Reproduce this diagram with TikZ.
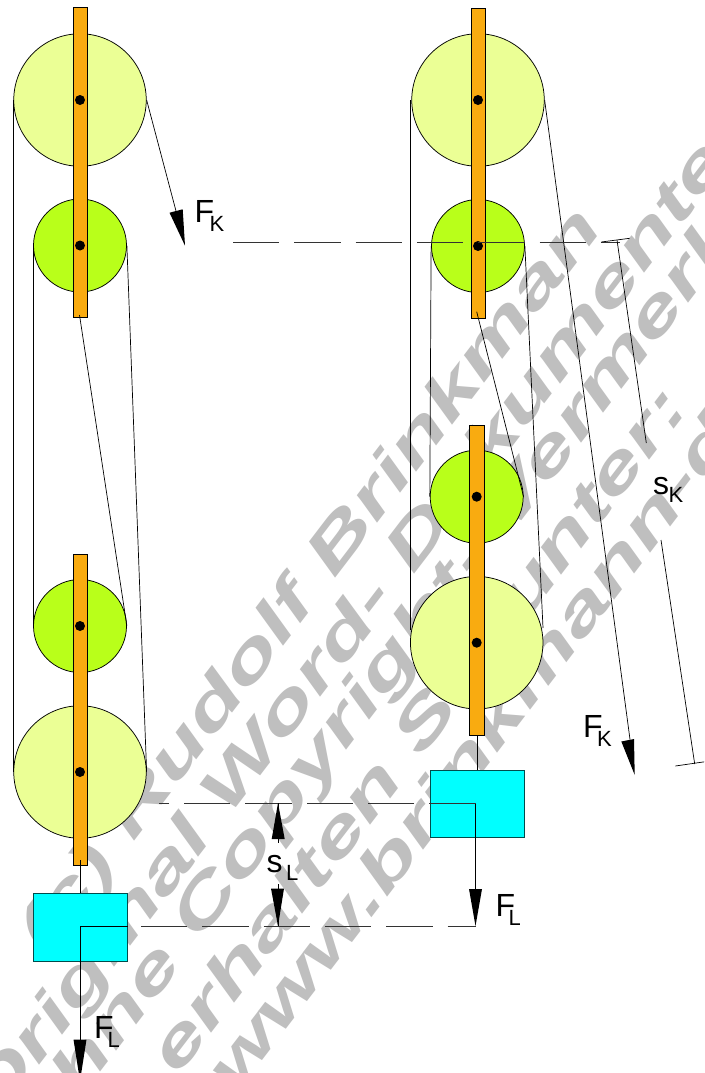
\documentclass[tikz,border=0pt]{standalone}
\usepackage{fontspec}
\setmainfont{Liberation Sans}
\newcommand{\wmfont}{\fontsize{62}{62}\selectfont\bfseries\itshape}
\newcommand{\wmtext}[1]{\scalebox{1.55}[1]{#1}}
\newcommand{\lblfont}{\fontsize{32}{32}\selectfont}
\newcommand{\subfont}{\fontsize{22}{22}\selectfont}
\definecolor{bigwheel}{HTML}{EBFF95}
\definecolor{smallwheel}{HTML}{B9FF1A}
\definecolor{barfill}{HTML}{F9AB10}
\definecolor{loadfill}{HTML}{00FFFF}
\definecolor{wmgray}{HTML}{BFBFBF}
\tikzset{
  x=1pt,y=-1pt,
  watermark/.style={anchor=base west,rotate=52.6,text=wmgray,inner sep=0pt,font=\wmfont},
  bigpulley/.style={circle,draw=black,line width=0.75pt,fill=bigwheel,minimum size=132.5pt,inner sep=0pt},
  smallpulley/.style={circle,draw=black,line width=0.75pt,fill=smallwheel,minimum size=93pt,inner sep=0pt},
  axle/.style={circle,fill=black,minimum size=10pt,inner sep=0pt},
  hanger/.style={draw=black,line width=0.75pt,fill=barfill},
  loadbox/.style={draw=black!70!loadfill,line width=0.9pt,fill=loadfill,inner sep=0pt},
  rope/.style={draw=black,line width=0.7pt},
  guide/.style={draw=black!80,line width=0.7pt,dash pattern=on 46.3pt off 15pt},
  headfill/.style={fill=black,draw=none},
  lbl/.style={anchor=base west,inner sep=0pt,font=\lblfont},
  sublbl/.style={anchor=base west,inner sep=0pt,font=\subfont},
}
\begin{document}
\begin{tikzpicture}
\useasboundingbox (0,0) rectangle (704,1073);
\clip (0,0) rectangle (704,1073);
\fill[white] (0,0) rectangle (704,1073);
% watermark
\node[watermark] (wm1) at (46,957) {\wmtext{(c) Rudolf Brinkman}};
\node[watermark] (wm2) at (-7,1126) {\wmtext{Original Word- Dokumente}};
\node[watermark] (wm3) at (44,1146) {\wmtext{ohne Copyright- Vermerk}};
\node[watermark] (wm4) at (178,1077) {\wmtext{erhalten Sie unter:}};
\node[watermark] (wm5) at (236,1095) {\wmtext{www.brinkmann-du.de}};
% left block and tackle
\node[bigpulley] (lb1) at (80,100) {};
\node[smallpulley] (ls1) at (80,245.5) {};
\node[smallpulley] (ls2) at (80,626) {};
\node[bigpulley] (lb2) at (80,772) {};
\draw[hanger] (73.5,7) rectangle (87.5,317);
\draw[hanger] (73.5,554) rectangle (87.5,865);
\node[axle] (la1) at (80,100) {};
\node[axle] (la2) at (80,245.5) {};
\node[axle] (la3) at (80,626) {};
\node[axle] (la4) at (80,772) {};
\coordinate (lhangA) at (79.5,315);
\coordinate (lhangB) at (80,860);
\node[loadbox,minimum width=94pt,minimum height=68pt] (lload) at (80.5,927) {};
\coordinate (lcorner) at (80,926);
\coordinate (lftip) at (80,1081);
\draw[rope] (lb1.west) -- (lb2.west);
\draw[rope] (ls1.west) -- (ls2.west);
\draw[rope] (ls1.east) -- (lb2.east);
\draw[rope] (lhangA) -- (ls2.east);
\draw[rope] (lhangB) -- (lload.north -| lhangB);
\draw[rope] (lload.east |- lcorner) -- (lcorner) -- (80,1045);
\fill[headfill] (73.5,1039.5) -- (86.5,1039.5) -- (lftip) -- cycle;
% FK left
\coordinate (lfk) at (185,245.7);
\draw[rope] (lb1.east) -- (176,211);
\fill[headfill] (169.5,212.7) -- (182.7,209.3) -- (lfk) -- cycle;
\node[lbl] (fk1) at (194.5,222.7) {F};
\node[sublbl] (fk1s) at (209.5,231.7) {K};
\node[lbl] (fl1) at (94,1038.3) {F};
\node[sublbl] (fl1s) at (107.5,1047.3) {L};
% right block and tackle
\node[bigpulley] (rb1) at (478,100) {};
\node[smallpulley] (rs1) at (478,246) {};
\node[smallpulley] (rs2) at (476.7,496.7) {};
\node[bigpulley] (rb2) at (476.7,642.7) {};
\draw[hanger] (471.3,8) rectangle (485.3,318);
\draw[hanger] (469.7,425) rectangle (484.5,735.7);
\node[axle] (ra1) at (478,100) {};
\node[axle] (ra2) at (478,246) {};
\node[axle] (ra3) at (476.7,496.7) {};
\node[axle] (ra4) at (476.7,642.7) {};
\coordinate (rhangA) at (476.7,311.7);
\coordinate (rhangB) at (477.5,735.7);
\node[loadbox,minimum width=93.6pt,minimum height=67.4pt] (rload) at (477.5,804) {};
\coordinate (rcorner) at (475.5,803);
\coordinate (rftip) at (475.5,926);
\draw[rope] (410,100) -- (410,630);
\draw[rope] (rs1.west) -- (rs2.west);
\draw[rope] (rs1.east) -- (543,628);
\draw[rope] (rhangA) -- (rs2.east);
\draw[rope] (rhangB) -- (rhangB |- rload.north);
\draw[rope] (rcorner) -- (475.5,892);
\fill[headfill] (469,889) -- (482,889) -- (rftip) -- cycle;
% FK right
\coordinate (rfk) at (634.7,775);
\draw[rope] (rb1.east) -- (630,739.5);
\fill[headfill] (621.3,741.5) -- (634,739) -- (rfk) -- cycle;
\node[lbl] (fk2) at (583,737.7) {F};
\node[sublbl] (fk2s) at (597,746.7) {K};
\node[lbl] (fl2) at (495.5,916.7) {F};
\node[sublbl] (fl2s) at (508.5,925.7) {L};
% guide lines
\coordinate (gKa) at (233,242.7);
\coordinate (gKb) at (620,242.7);
\coordinate (gLa) at (159,803);
\coordinate (gLb) at (rcorner);
\coordinate (gBa) at (141,926);
\coordinate (gBb) at (rftip);
\draw[guide] (gKa) -- (gKb);
\draw[guide] (gLb) -- (gLa);
\draw[guide] (gBa) -- (gBb);
% sK dimension
\coordinate (tickTa) at (601.3,242);
\coordinate (tickTb) at (629.7,238.3);
\coordinate (tickBa) at (675.3,766);
\coordinate (tickBb) at (710,761);
\draw[rope] (tickTa) -- (tickTb);
\draw[rope] (tickBa) -- (tickBb);
\coordinate (dimA) at (617,240);
\coordinate (dimAe) at (646.3,443);
\coordinate (dimB) at (661,540);
\coordinate (dimBe) at (694.7,764);
\draw[rope] (dimA) -- (dimAe);
\draw[rope] (dimB) -- (dimBe);
\node[lbl] (sk) at (653,494) {s};
\node[sublbl] (sks) at (668.5,502.7) {K};
% sL dimension
\coordinate (sLtop) at (278,803);
\coordinate (sLbot) at (278,926);
\draw[rope] (sLtop) -- (278,843);
\fill[headfill] (sLtop) -- (284.7,839) -- (271.7,839) -- cycle;
\draw[rope] (278,884) -- (sLbot);
\fill[headfill] (sLbot) -- (271,888.5) -- (284,888.5) -- cycle;
\node[lbl] (sl) at (266.5,872) {s};
\node[sublbl] (sls) at (286,880) {L};
\end{tikzpicture}
\end{document}
